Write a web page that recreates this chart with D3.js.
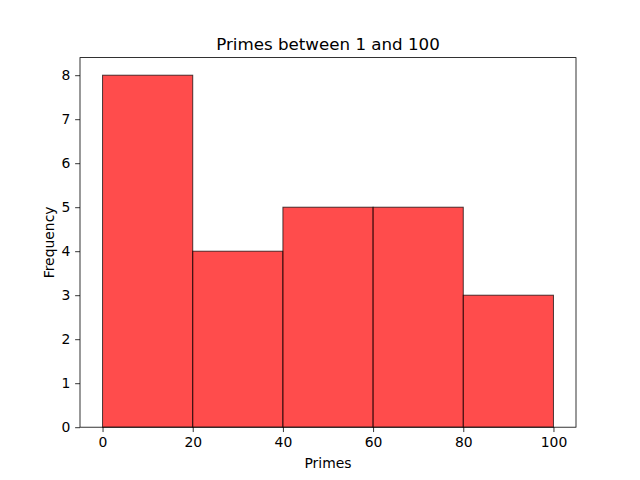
<!DOCTYPE html>
<html><head><meta charset="utf-8">
<script src="https://cdn.jsdelivr.net/npm/d3@7"></script>
<style>body{margin:0;background:#fff}svg{display:block}text{font-family:"DejaVu Sans",sans-serif}</style>
</head><body>
<svg id="c" width="640" height="480"></svg>
<script>
const binEdges = [0, 20, 40, 60, 80, 100];
const counts = [8, 4, 5, 5, 3];
const xTicks = [0, 20, 40, 60, 80, 100];
const yTicks = [0, 1, 2, 3, 4, 5, 6, 7, 8];

const svg = d3.select("#c");
const L = 80, R = 576, T = 57.6, B = 427.2;
const x = d3.scaleLinear().domain([-5, 105]).range([L, R]);
const y = d3.scaleLinear().domain([0, 8.4]).range([B, T]);

const bins = counts.map((c, i) => ({x0: binEdges[i], x1: binEdges[i + 1], c}));
svg.append("g").selectAll("rect").data(bins).join("rect")
  .attr("x", d => x(d.x0)).attr("y", d => y(d.c))
  .attr("width", d => x(d.x1) - x(d.x0)).attr("height", d => y(0) - y(d.c))
  .attr("fill", "rgba(255,0,0,0.7)").attr("stroke", "rgba(0,0,0,0.7)").attr("stroke-width", 1);

const fs = 13.9;
const xa = svg.append("g").attr("transform", `translate(0,${B})`)
  .call(d3.axisBottom(x).tickValues(xTicks).tickSize(4.86).tickPadding(4.86).tickFormat(d3.format("d")));
const ya = svg.append("g").attr("transform", `translate(${L},0)`)
  .call(d3.axisLeft(y).tickValues(yTicks).tickSize(4.86).tickPadding(4.86).tickFormat(d3.format("d")));
[xa, ya].forEach(a => {
  a.select(".domain").remove();
  a.selectAll("text").attr("font-size", fs).attr("font-family", "DejaVu Sans").attr("fill", "#000");
  a.selectAll("line").attr("stroke", "#000").attr("stroke-width", 0.8);
});
svg.append("rect").attr("x", L).attr("y", T).attr("width", R - L).attr("height", B - T)
  .attr("fill", "none").attr("stroke", "#000").attr("stroke-width", 0.8);

svg.append("text").attr("x", (L + R) / 2).attr("y", T - 8).attr("text-anchor", "middle")
  .attr("font-size", 16.7).text("Primes between 1 and 100");
svg.append("text").attr("x", (L + R) / 2).attr("y", 468).attr("text-anchor", "middle")
  .attr("font-size", fs).text("Primes");
svg.append("text").attr("transform", `translate(${L - 26},${(T + B) / 2}) rotate(-90)`)
  .attr("text-anchor", "middle").attr("font-size", fs).text("Frequency");
</script>
</body></html>
